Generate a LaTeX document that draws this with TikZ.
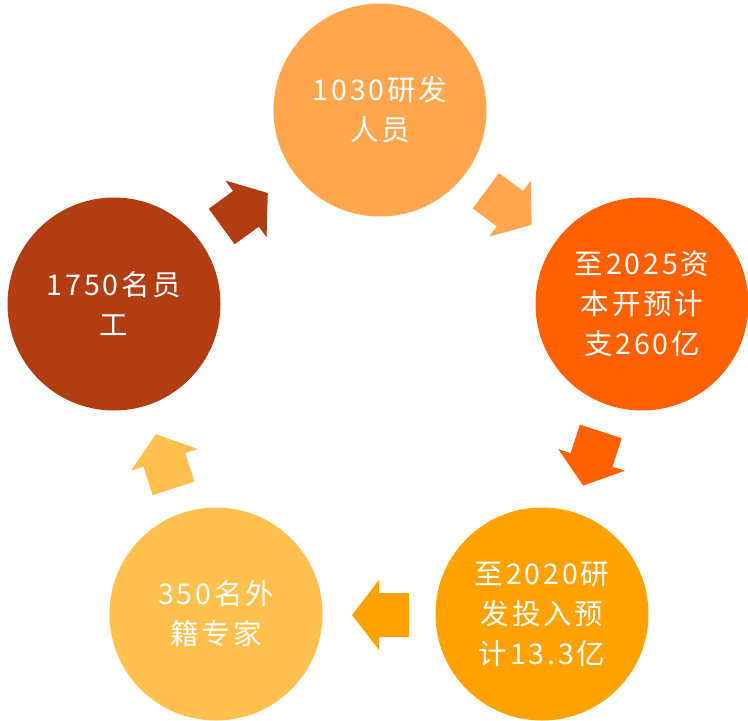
\documentclass[tikz,border=0pt]{standalone}
\usepackage{fontspec}
\newfontfamily\cjk[LetterSpace=10]{Noto Sans CJK SC}
\definecolor{cTop}{HTML}{FFA64F}
\definecolor{cRight}{HTML}{FF6000}
\definecolor{cBR}{HTML}{FFA200}
\definecolor{cBL}{HTML}{FFC04D}
\definecolor{cLeft}{HTML}{B33D12}
\tikzset{
  bubble/.style={circle, minimum size=213pt, inner sep=0pt, text=white, align=center,
    font=\cjk\fontsize{28.5pt}{40pt}\selectfont},
}
\newcommand{\blockarrow}[4]{% cx, cy, angle, colour
  \begin{scope}[shift={(#1,#2)}, rotate=#3]
    \fill[#4] (-28.5,-22) -- (1.5,-22) -- (1.5,-35) -- (28.5,0) -- (1.5,35) -- (1.5,22) -- (-28.5,22) -- cycle;
  \end{scope}}
\begin{document}
\begin{tikzpicture}[x=1pt,y=-1pt]
\useasboundingbox (0,0) rectangle (748,721);
\node[bubble, fill=cTop]   (top)   at (380,110) {1030研发\\人员};
\node[bubble, fill=cRight] (right) at (642,304) {至2025资\\本开预计\\支260亿};
\node[bubble, fill=cBR]    (br)    at (542,614) {至2020研\\发投入预\\计13.3亿};
\node[bubble, fill=cBL]    (bl)    at (216,614) {350名外\\籍专家};
\node[bubble, fill=cLeft]  (left)  at (114,304) {1750名员\\工};
\blockarrow{244.75}{209.75}{36}{cLeft}
\blockarrow{508.75}{207.75}{-36.6}{cTop}
\blockarrow{592}{458.5}{-108}{cRight}
\blockarrow{380.5}{615}{180}{cBR}
\blockarrow{164.75}{461.25}{108}{cBL}
\end{tikzpicture}
\end{document}
